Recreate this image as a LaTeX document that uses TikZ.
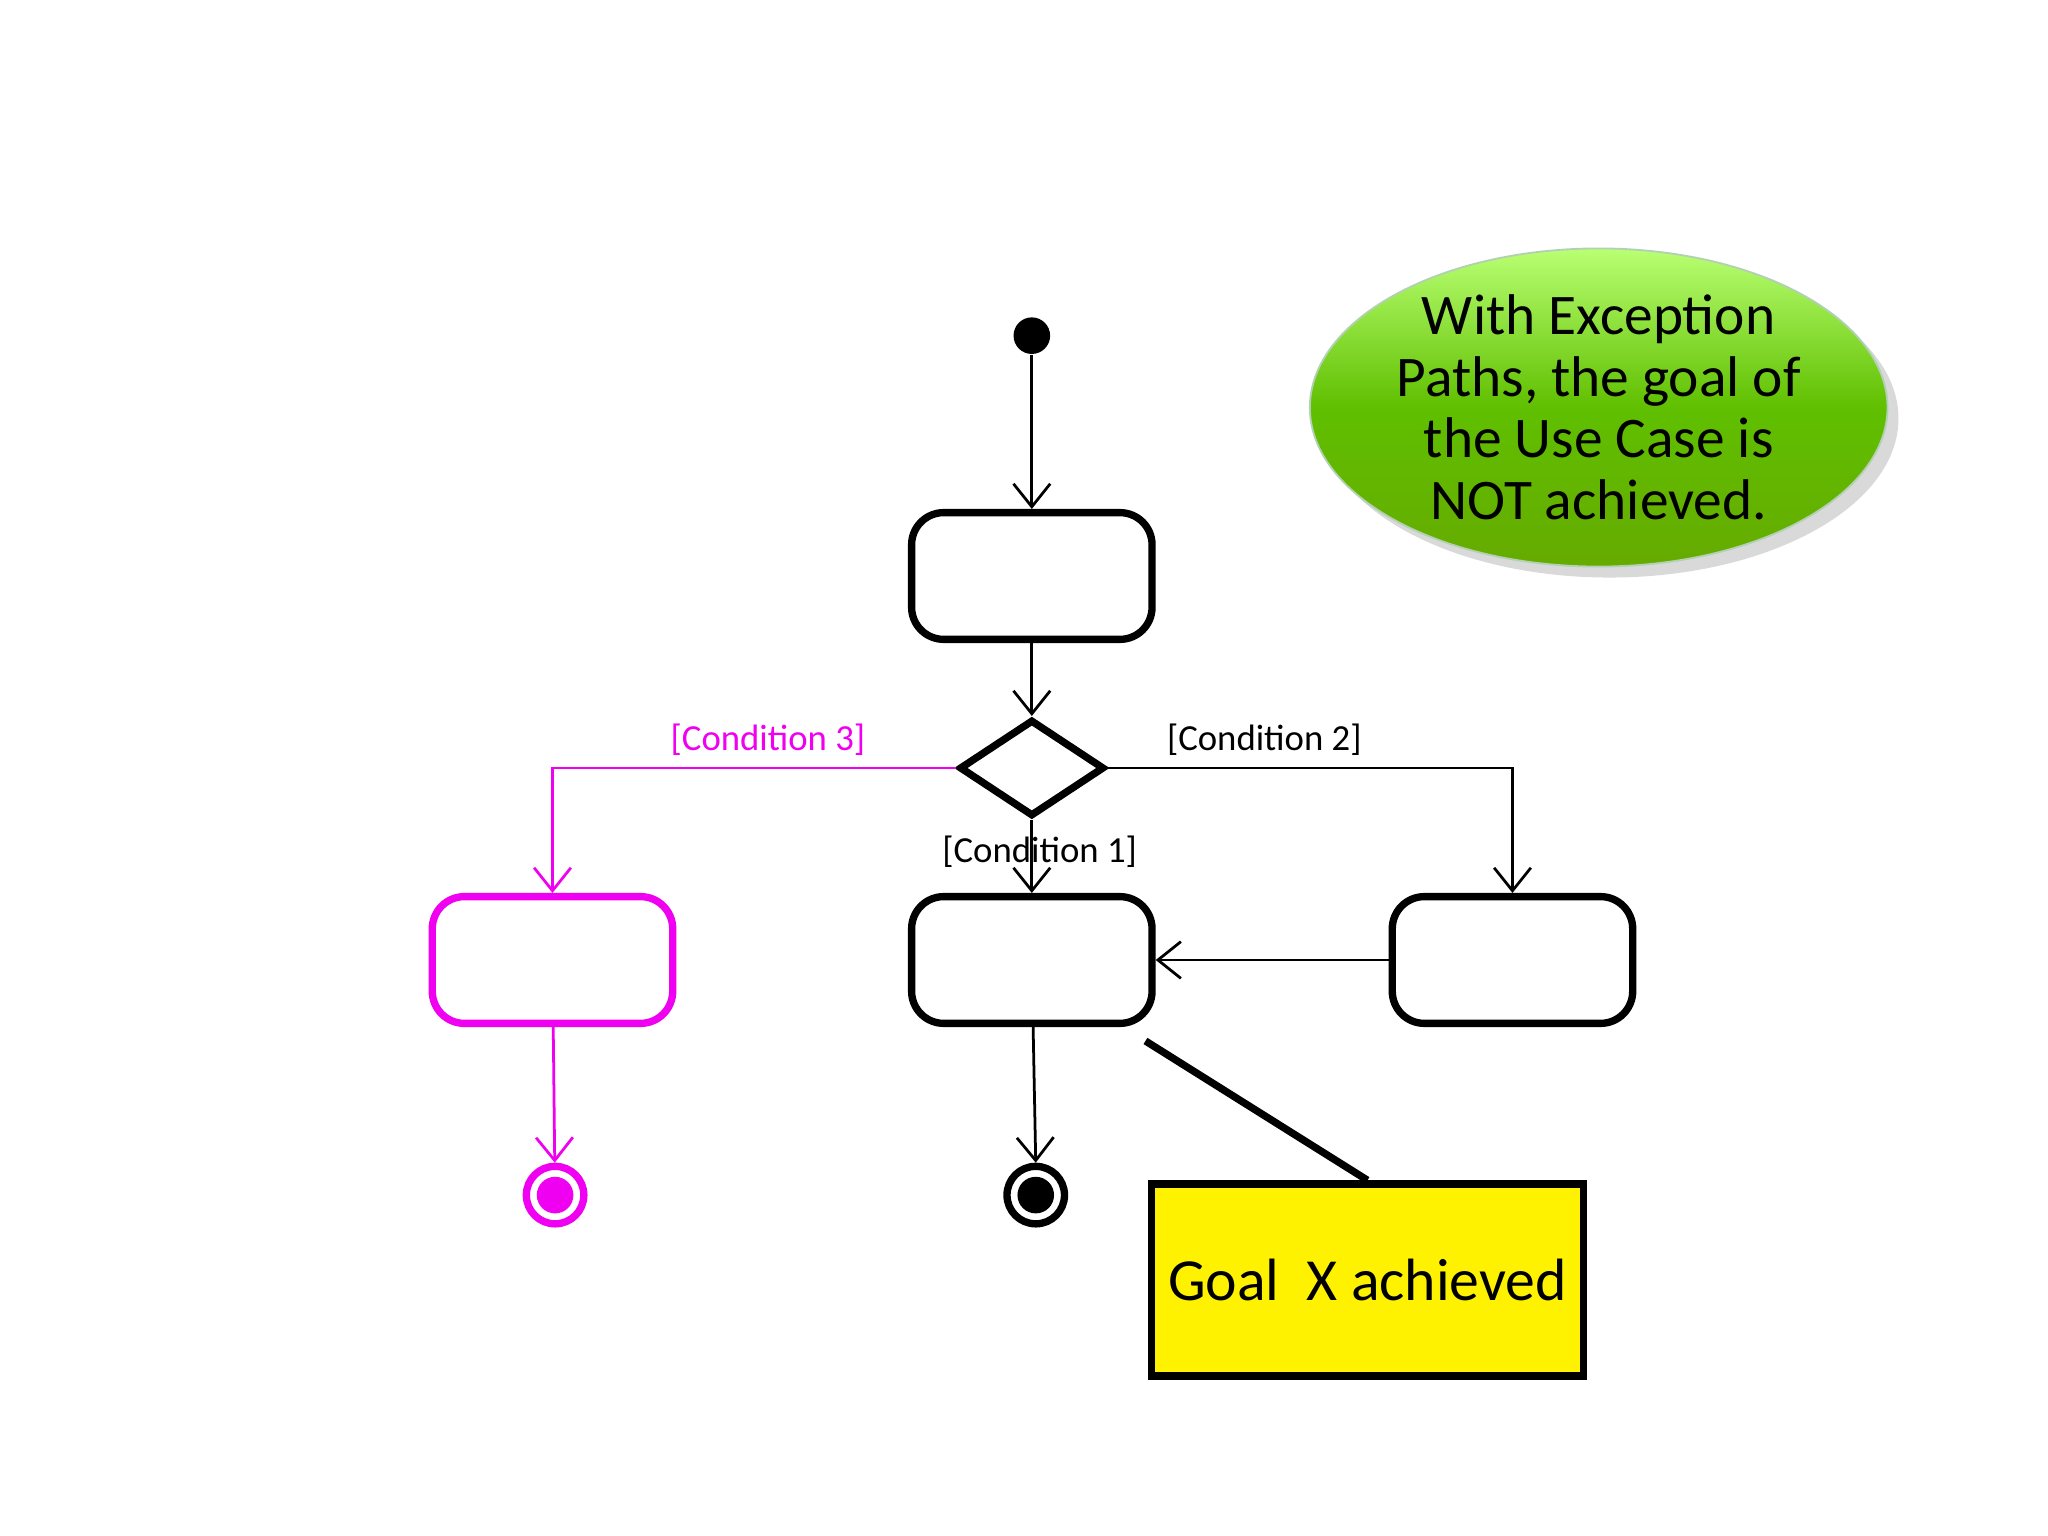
\documentclass[tikz,border=0pt]{standalone}
\usepackage{fontspec}
\setmainfont{Carlito}
\usetikzlibrary{arrows.meta,shapes.geometric,shadows}
\definecolor{mag}{RGB}{240,0,240}
\begin{document}
\begin{tikzpicture}[x=0.01cm,y=-0.01cm,
  box/.style={draw,line width=1.6pt,rounded corners=7pt,minimum width=1.84cm,minimum height=0.97cm,inner sep=0},
  arr/.style={-{Straight Barb[length=5pt,width=8pt]},line width=0.6pt},
  lbl/.style={font=\fontsize{8}{10}\selectfont}]
\useasboundingbox (0,0) rectangle (1568,1176);
\node[circle,fill,minimum size=0.28cm,inner sep=0] (s) at (790,257) {};
\node[box] (b1) at (790,441) {};
\node[diamond,draw,line width=1.6pt,minimum width=1.11cm,minimum height=0.74cm,inner sep=0] (d) at (790,588) {};
\node[box] (bm) at (790,735) {};
\node[box] (br) at (1158,735) {};
\node[box,draw=mag] (bl) at (423,735) {};
\node[circle,draw=mag,line width=1.6pt,minimum size=0.44cm,inner sep=0] (el) at (425,915) {};
\node[circle,fill=mag,minimum size=0.28cm,inner sep=0] at (425,915) {};
\node[circle,draw,line width=1.6pt,minimum size=0.44cm,inner sep=0] (em) at (793,915) {};
\node[circle,fill,minimum size=0.28cm,inner sep=0] at (793,915) {};
\draw[arr] (s) -- (b1);
\draw[arr] (b1) -- (d);
\draw[arr] (d) -- (bm);
\draw[arr] (d.east) -| (br);
\draw[arr,draw=mag] (d.west) -| (bl);
\draw[arr] (br) -- (bm);
\draw[arr,draw=mag] (bl) -- (el);
\draw[arr] (bm) -- (em.north);
\node[lbl,text=mag] at (588,566) {[Condition 3]};
\node[lbl] at (968,566) {[Condition 2]};
\node[lbl] at (796,652) {[Condition 1]};
\node[draw,fill=yellow,line width=1.6pt,minimum width=3.31cm,minimum height=1.47cm,font=\fontsize{13}{15}\selectfont] (g) at (1047,980) {Goal\ \ X achieved};
\coordinate (c) at (877,797);
\draw[line width=1.6pt] (c) -- (g.north);
\node[ellipse,draw=green!40!black!30,top color=green!50!yellow!55!white,bottom color=green!45!black!60!yellow,middle color=green!50!yellow!75!black,shading angle=0,minimum width=4.42cm,minimum height=2.34cm,inner sep=0,align=center,drop shadow={opacity=0.3},font=\fontsize{12.5}{13.4}\selectfont] (e) at (1224,312) {With Exception\\Paths, the goal of\\the Use Case is\\NOT achieved.};
\end{tikzpicture}
\end{document}
